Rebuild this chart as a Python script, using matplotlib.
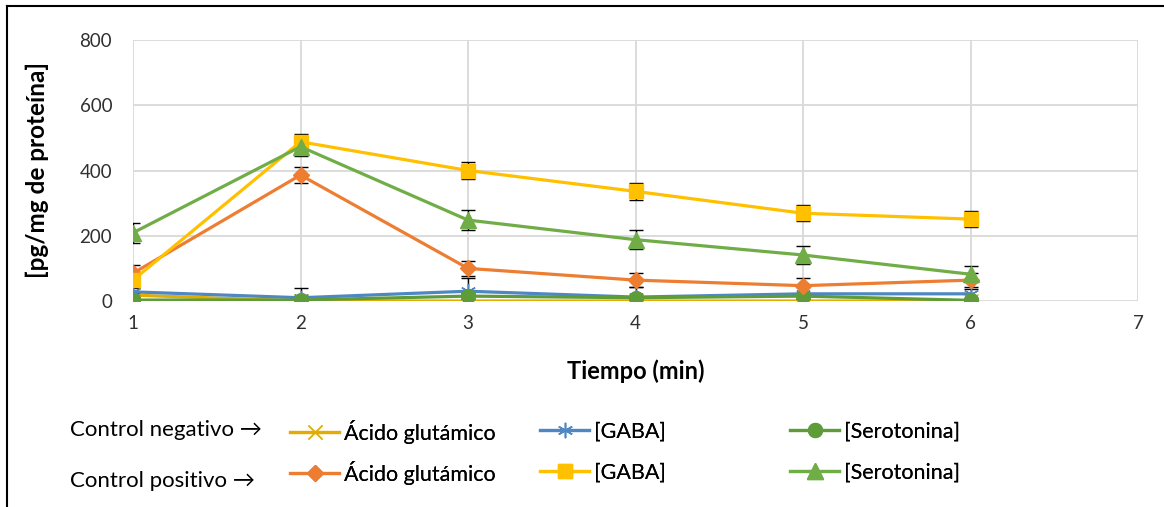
import matplotlib.pyplot as plt
from matplotlib.lines import Line2D

plt.rcParams['font.family'] = ['Lato', 'DejaVu Sans']

# Data
tiempo = [1, 2, 3, 4, 5, 6]

neg_glut = [18, 0, 0, 0, 0, 0]
neg_gaba = [28, 10, 30, 12, 22, 22]
neg_sero = [3, 3, 15, 10, 15, 2]
neg_glut_err = [5, 5, 5, 5, 5, 5]
neg_gaba_err = [12, 30, 40, 30, 20, 15]
neg_sero_err = [3, 3, 8, 5, 8, 3]

pos_glut = [85, 386, 100, 64, 47, 64]
pos_gaba = [64, 488, 400, 336, 269, 251]
pos_sero = [209, 473, 248, 188, 141, 82]
pos_glut_err = [24, 25, 24, 22, 22, 22]
pos_gaba_err = [14, 25, 26, 26, 25, 25]
pos_sero_err = [30, 28, 30, 30, 27, 25]

labels = ['Ácido glutámico', '[GABA]', '[Serotonina]']

W, H = 1164, 507
fig = plt.figure(figsize=(W / 100, H / 100), dpi=100)
ax = fig.add_axes([133 / W, 1 - 301 / H, (1138 - 133) / W, (301 - 40) / H])

def serie(y, err, color, marker, ms):
    ax.errorbar(tiempo, y, yerr=err, fmt='none', ecolor='black',
                elinewidth=1, capsize=5, capthick=1, zorder=2)
    ln, = ax.plot(tiempo, y, color=color, marker=marker, markersize=ms,
                  linewidth=2.3, zorder=3, markeredgecolor=color)
    return ln

h_neg_glut = serie(neg_glut, neg_glut_err, '#E2AC00', 'x', 10)
h_neg_gaba = serie(neg_gaba, neg_gaba_err, '#4F87C2', (6, 2, 0), 11)
h_neg_sero = serie(neg_sero, neg_sero_err, '#5E9C3A', 'o', 10)
h_pos_glut = serie(pos_glut, pos_glut_err, '#ED7D31', 'D', 8)
h_pos_gaba = serie(pos_gaba, pos_gaba_err, '#FFC000', 's', 10)
h_pos_sero = serie(pos_sero, pos_sero_err, '#70AD47', '^', 11)
for h in (h_neg_glut, h_neg_gaba):
    h.set_markeredgewidth(1)

ax.set_xlim(1, 7)
ax.set_ylim(0, 800)
ax.set_xticks(range(1, 8))
ax.set_yticks(range(0, 801, 200))
ax.grid(True, color='#D9D9D9', linewidth=1.3)
ax.set_axisbelow(True)
for s in ax.spines.values():
    s.set_visible(False)
ax.tick_params(length=0, labelsize=13.5, colors='#303030')
ax.tick_params(axis='x', pad=10)
ax.tick_params(axis='y', pad=15)
ax.set_xlabel('Tiempo (min)', fontsize=17, fontweight='bold', labelpad=20)
ax.set_ylabel('[pg/mg de proteína]', fontsize=17.5, fontweight='bold', labelpad=22)

# legend: one entry per cell, rows negativo / positivo
filas = [(432, [h_neg_glut, h_neg_gaba, h_neg_sero]),
         (473, [h_pos_glut, h_pos_gaba, h_pos_sero])]
col_x = [290, 540, 790]
for ypix, handles in filas:
    for h, lab, xpix in zip(handles, labels, col_x):
        leg = fig.legend([h], [lab], loc='center left',
                         bbox_to_anchor=(xpix / W, 1 - ypix / H),
                         frameon=False, fontsize=15.5, handlelength=2.28,
                         handletextpad=0.23, borderpad=0, borderaxespad=0)
        fig.add_artist(leg)

fig.text(70 / W, 1 - 430 / H, 'Control negativo →', fontsize=16,
         va='center', ha='left')
fig.text(70 / W, 1 - 481 / H, 'Control positivo →', fontsize=16,
         va='center', ha='left')

# image border (top and left)
fig.add_artist(Line2D([7 / W, 7 / W], [0, 1 - 6 / H], color='black', linewidth=1.5))
fig.add_artist(Line2D([7 / W, 1], [1 - 6 / H, 1 - 6 / H], color='black', linewidth=1.5))

fig.savefig('out.png', dpi=100)
